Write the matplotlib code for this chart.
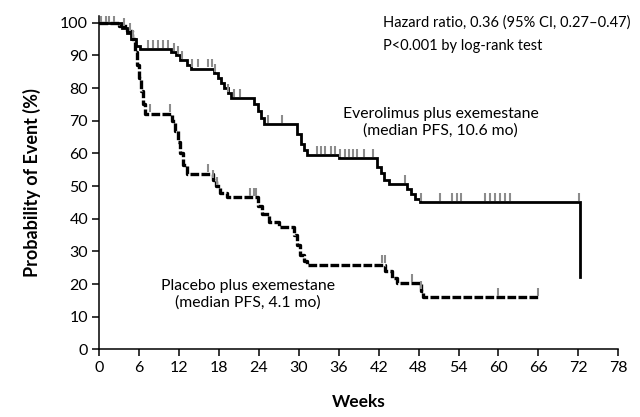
import matplotlib.pyplot as plt

plt.rcParams['font.family'] = ['Lato', 'DejaVu Sans']

# Everolimus plus exemestane (step curve)
evr_t = [0, 3.5, 4.2, 4.8, 5.5, 6.2, 10.8, 11.5, 12.2, 13.2, 13.8, 17.2, 17.8, 18.3, 18.8,
         19.3, 19.8, 23.2, 23.8, 24.3, 24.8, 29.8, 30.3, 30.8, 31.3, 36.0, 41.8, 42.3,
         42.8, 43.5, 46.2, 46.8, 47.5, 48.2, 72.2]
evr_s = [100, 98.5, 97, 95, 93, 92, 91, 90, 88.5, 87, 86, 84.5, 83, 81.5, 80,
         78.5, 77, 75, 73, 71, 69, 66, 63, 61, 59.5, 58.5, 56, 54,
         52, 50.5, 49, 47.5, 46, 45.1, 22.2]
evr_cens = [0.2, 1.5, 3.8, 4.6, 5.1, 7.4, 8.1, 8.9, 9.6, 10.4, 11.2, 11.8, 12.5, 14.0,
            14.9, 16.4, 16.9, 17.4, 19.4, 20.2, 21.2, 25.3, 27.5, 32.8, 33.4, 34.0,
            34.8, 35.4, 36.2, 37.0, 37.6, 38.2, 38.8, 39.8, 41.2, 46.0, 48.3, 51.2,
            53.0, 53.7, 54.3, 58.0, 58.8, 59.5, 60.3, 61.0, 61.7, 72.1]

# Placebo plus exemestane
pbo_t = [0, 3.0, 4.2, 5.0, 5.4, 5.7, 6.0, 6.3, 6.6, 6.9, 11.0, 11.4, 11.8, 12.2, 12.6,
         13.2, 17.1, 17.6, 18.2, 19.2, 23.9, 24.5, 25.5, 27.0, 29.2, 29.7, 30.2, 30.8,
         31.3, 43.0, 44.0, 44.8, 48.3, 48.6, 66.3]
pbo_s = [100, 99, 97.5, 95, 91, 87, 83, 79, 75, 72.2, 70, 67, 63.5, 60, 56.5,
         53.8, 52, 50, 48, 46.7, 44, 41.6, 39, 37.5, 35, 32, 29, 27,
         26, 24, 22, 20.2, 18, 16.1, 16.1]
pbo_cens = [1.0, 2.2, 7.7, 10.7, 16.4, 17.1, 17.7, 22.7, 23.2, 23.6, 42.5, 42.9,
            47.0, 48.3, 60.0, 66.0]


def surv_at(t_list, s_list, x):
    val = s_list[0]
    for t, s in zip(t_list, s_list):
        if t <= x:
            val = s
    return val


fig = plt.figure(figsize=(6.4, 4.17), dpi=100)
ax = fig.add_axes([0.155, 0.162, 0.811, 0.799])

ax.step(evr_t, evr_s, where='post', color='black', lw=2.0, solid_joinstyle='miter')
ax.step(pbo_t, pbo_s, where='post', color='black', lw=2.4, dashes=(2.6, 0.7))

ax.plot(evr_cens, [surv_at(evr_t, evr_s, c) + 1.6 for c in evr_cens], ls='none',
        marker='|', ms=6, mew=1.5, color='#8c8c8c')
ax.plot(pbo_cens, [surv_at(pbo_t, pbo_s, c) + 1.6 for c in pbo_cens], ls='none',
        marker='|', ms=6, mew=1.5, color='#8c8c8c')

ax.set_xlim(0, 78)
ax.set_ylim(0, 102)
ax.set_xticks(range(0, 79, 6))
ax.set_yticks(range(0, 101, 10))
for side in ['top', 'right']:
    ax.spines[side].set_visible(False)
for side in ['left', 'bottom']:
    ax.spines[side].set_linewidth(1.1)
ax.tick_params(direction='out', length=5, width=1.1, labelsize=11.5, pad=3)

ax.set_xlabel('Weeks', fontsize=12.5, fontweight='bold', labelpad=14)
ax.set_ylabel('Probability of Event (%)', fontsize=13, fontweight='bold', labelpad=14)

ax.text(42.6, 100.1, 'Hazard ratio, 0.36 (95% CI, 0.27\u20130.47)', fontsize=10.5,
        va='center', ha='left')
ax.text(42.6, 93.0, 'P<0.001 by log-rank test', fontsize=10.5, va='center', ha='left')
ax.text(51.3, 69.4, 'Everolimus plus exemestane\n(median PFS, 10.6 mo)', fontsize=11.3,
        va='center', ha='center', linespacing=1.2)
ax.text(22.4, 16.9, 'Placebo plus exemestane\n(median PFS, 4.1 mo)', fontsize=11.3,
        va='center', ha='center', linespacing=1.2)

fig.savefig('out.png', dpi=100)
